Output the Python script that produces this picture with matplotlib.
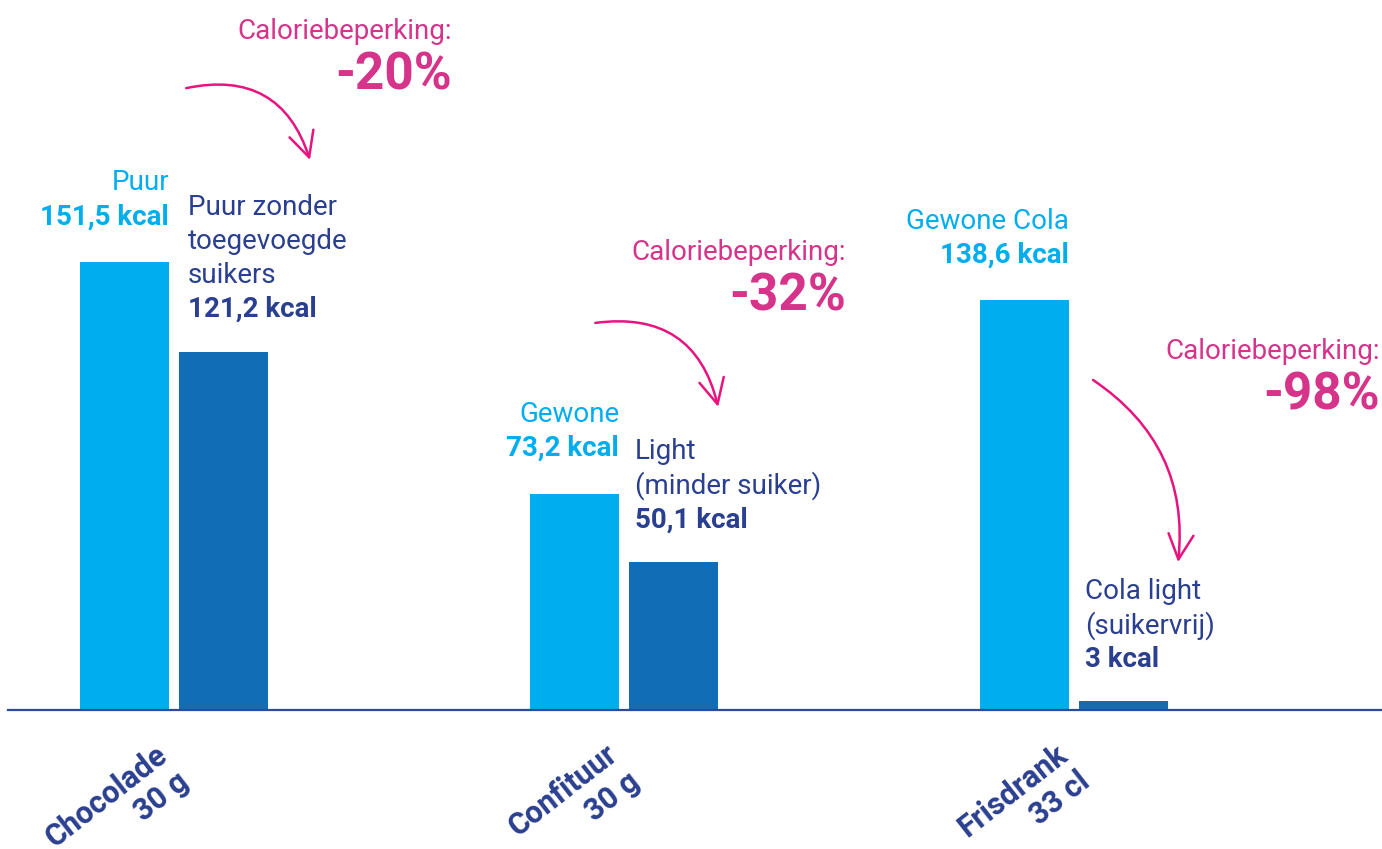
import matplotlib
matplotlib.use("Agg")
import matplotlib.pyplot as plt
from matplotlib.patches import FancyArrowPatch

# ---- data ----
categories = ["Chocolade\n30 g", "Confituur\n30 g", "Frisdrank\n33 cl"]
regular_names = ["Puur", "Gewone", "Gewone Cola"]
regular_kcal = [151.5, 73.2, 138.6]
light_names = ["Puur zonder\ntoegevoegde\nsuikers", "Light\n(minder suiker)", "Cola light\n(suikervrij)"]
light_kcal = [121.2, 50.1, 3.0]
reduction_label = "Caloriebeperking:"

# ---- style ----
C_LIGHT = "#00AEEF"
C_DARK = "#116DB6"
C_NAVY = "#2A3F8F"
C_PINK_TXT = "#D6338A"
C_PINK_ARR = "#E8137F"
FONT = ["Roboto", "DejaVu Sans"]
plt.rcParams["font.family"] = FONT

fig = plt.figure(figsize=(13.82, 8.49), dpi=100)
ax = fig.add_axes([8 / 1382, 1 - 710 / 849, 1 - 8 / 1382, 710 / 849])
ax.set_xlim(-0.369, 2.684)
ax.set_ylim(0, 240.1)
for s in ["top", "right", "left"]:
    ax.spines[s].set_visible(False)
ax.spines["bottom"].set_color("#2E4A9A")
ax.spines["bottom"].set_linewidth(1.6)
ax.set_xticks([])
ax.set_yticks([])

w = 0.198
off = 0.11
x = list(range(len(categories)))
ax.bar([i - off for i in x], regular_kcal, width=w, color=C_LIGHT, zorder=2)
ax.bar([i + off for i in x], light_kcal, width=w, color=C_DARK, zorder=2)

FS = 20
LS = 34  # line spacing in pixels

for i in x:
    # regular bar labels (right aligned at bar's right edge)
    xr = i - off + w / 2
    v = regular_kcal[i]
    ax.annotate(f"{v:.1f}".replace(".", ",") + " kcal", (xr, v), xytext=(0, 45),
                textcoords="offset pixels", ha="right", va="center",
                fontsize=FS, fontweight="bold", color=C_LIGHT)
    ax.annotate(regular_names[i], (xr, v), xytext=(0, 45 + LS),
                textcoords="offset pixels", ha="right", va="center",
                fontsize=FS, color=C_LIGHT)
    # light bar labels (left aligned)
    xl = i + off - w / 2
    v2 = light_kcal[i]
    vtxt = (f"{v2:.1f}".replace(".", ",") if v2 % 1 else f"{int(v2)}") + " kcal"
    dx = 9 if i == 0 else 6
    ax.annotate(vtxt, (xl, v2), xytext=(dx, 42),
                textcoords="offset pixels", ha="left", va="center",
                fontsize=FS, fontweight="bold", color=C_NAVY)
    lines = light_names[i].split("\n")
    for k, ln in enumerate(reversed(lines)):
        ax.annotate(ln, (xl, v2), xytext=(dx, 42 + LS * (k + 1)),
                    textcoords="offset pixels", ha="left", va="center",
                    fontsize=FS, color=C_NAVY)
    # category labels
    ax.annotate(categories[i], (i + 0.046, 0), xytext=(0, -29),
                textcoords="offset pixels", ha="right", va="top",
                rotation=38, multialignment="right",
                fontsize=22, fontweight="bold", color=C_NAVY,
                annotation_clip=False)

# ---- reduction annotations ----
red_text_x = [0.618, 1.493, 2.68]
red_text_y = [214.4, 139.7, 106.5]
arrow_start = [(0.027, 210.3), (0.936, 130.9), (2.042, 111.6)]
arrow_end = [(0.302, 186.0), (1.209, 102.5), (2.231, 50.0)]
arrow_rad = [-0.45, -0.45, -0.3]

for i in x:
    pct = round((light_kcal[i] - regular_kcal[i]) / regular_kcal[i] * 100)
    ax.annotate(f"{pct}%", (red_text_x[i], red_text_y[i]), ha="right", va="center",
                fontsize=37, fontweight="bold", color=C_PINK_TXT,
                annotation_clip=False)
    ax.annotate(reduction_label, (red_text_x[i], red_text_y[i]), xytext=(0, 44),
                textcoords="offset pixels", ha="right", va="center",
                fontsize=20, color=C_PINK_TXT, annotation_clip=False)
    arr = FancyArrowPatch(arrow_start[i], arrow_end[i],
                          connectionstyle=f"arc3,rad={arrow_rad[i]}",
                          arrowstyle="->,head_length=0.9,head_width=0.45",
                          mutation_scale=20, color=C_PINK_ARR, linewidth=1.8,
                          shrinkA=0, shrinkB=0, clip_on=False)
    ax.add_patch(arr)

fig.savefig("out.png", dpi=100)
